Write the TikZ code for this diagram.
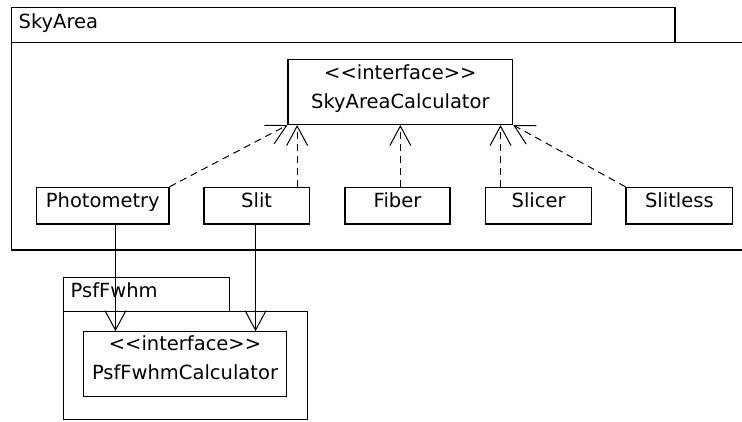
\documentclass[tikz,border=0pt]{standalone}
\usepackage{fontspec}
\setmainfont{DejaVu Sans}[Ligatures=TeXOff]
\usetikzlibrary{arrows.meta}
\begin{document}
\begin{tikzpicture}[x=1pt,y=-1pt,
  every node/.style={font=\fontsize{19.5}{23}\selectfont},
  pkg/.style={draw, line width=1.3pt},
  cls/.style={draw, line width=1.1pt, inner sep=0pt, text height=10pt, text depth=6.7pt},
  iface/.style={draw, line width=1.1pt, inner sep=0pt},
  lbl/.style={anchor=base, inner sep=0pt},
  pkglbl/.style={anchor=base west, inner sep=0pt},
  barb/.tip={Straight Barb[length=19.5pt,width=21pt,line width=1pt]},
  real/.style={line width=1pt, dash pattern=on 7pt off 5pt, -barb},
  dep/.style={line width=1pt, -barb}
]
\useasboundingbox (0,0) rectangle (742,421);

% package SkyArea
\draw[pkg] (11.5,7.5) rectangle (675,42.3);
\draw[pkg] (11.5,42.3) rectangle (760,250);
\node[pkglbl] (skyname) at (18.5,28.3) {SkyArea};

% package PsfFwhm
\draw[pkg] (63.3,277.3) rectangle (229.3,311.7);
\draw[pkg] (63.3,311.7) rectangle (307.3,419.3);
\node[pkglbl] (psfname) at (70.5,297.3) {PsfFwhm};

% interface SkyAreaCalculator
\node[iface, minimum width=224.7pt, minimum height=65.2pt] (sac) at (400.35,91.9) {};
\node[lbl] (sacst) at (400.35,79) {<<interface>>};
\node[lbl] (sacnm) at (400.35,108.3) {SkyAreaCalculator};

% interface PsfFwhmCalculator
\node[iface, minimum width=203.4pt, minimum height=65pt] (psf) at (185,364.2) {};
\node[lbl] (psfst) at (185,350.7) {<<interface>>};
\node[lbl] (psfnm) at (185,379.3) {PsfFwhmCalculator};

% implementing classes
\node[cls, minimum width=132.3pt, minimum height=36.7pt] (phot) at (102.85,205.65) {Photometry};
\node[cls, minimum width=105.3pt, minimum height=36.7pt] (slit) at (256.65,205.65) {Slit};
\node[cls, minimum width=105pt, minimum height=36.7pt] (fiber) at (397.5,205.65) {Fiber};
\node[cls, minimum width=106.2pt, minimum height=36.7pt] (slicer) at (538.6,205.65) {Slicer};
\node[cls, minimum width=106.7pt, minimum height=36.7pt] (slitless) at (679.35,205.65) {Slitless};

% realizations of SkyAreaCalculator
\coordinate (slitTop) at ([xshift=9.7pt]sac.south west);
\coordinate (slicerTop) at ([xshift=-12.7pt]sac.south east);
\draw[real] (phot.north east) -- (sac.south west);
\draw[real] (slitTop |- slit.north) -- (slitTop);
\draw[real] (sac.south |- fiber.north) -- (sac.south);
\draw[real] (slicerTop |- slicer.north) -- (slicerTop);
\draw[real] (slitless.north west) -- (sac.south east);

% dependencies on PsfFwhmCalculator
\coordinate (psfA) at ([xshift=32.7pt]psf.north west);
\coordinate (psfB) at ([xshift=-31.7pt]psf.north east);
\draw[dep] (psfA |- phot.south) -- (psfA);
\draw[dep] (psfB |- slit.south) -- (psfB);
\end{tikzpicture}
\end{document}
